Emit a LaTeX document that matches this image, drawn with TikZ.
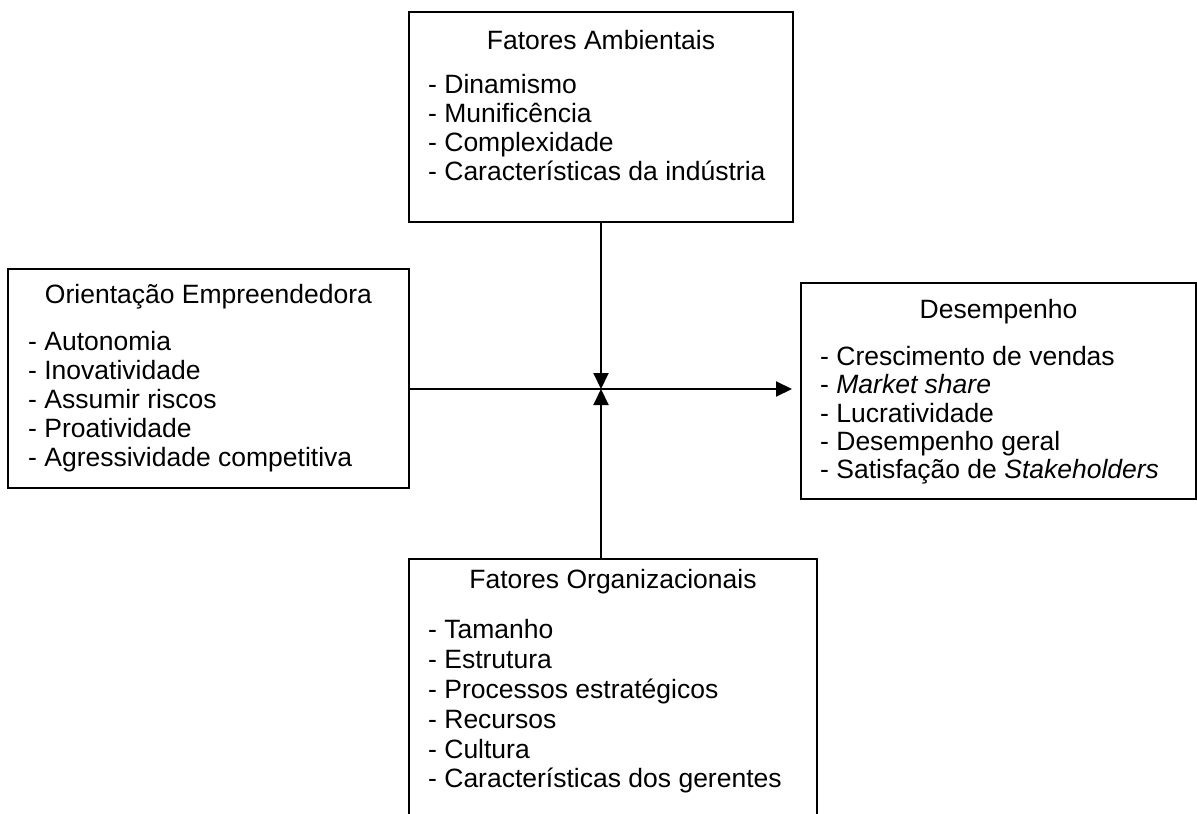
\documentclass[tikz,border=0pt]{standalone}
\usepackage{fontspec}
\setmainfont{Liberation Sans}
\usetikzlibrary{arrows.meta}
\begin{document}
\begin{tikzpicture}[x=1pt,y=-1pt,
  box/.style={draw=black, line width=2pt, inner sep=0pt, rectangle},
  ttl/.style={font=\fontsize{26.5}{30}\selectfont, inner sep=0pt, anchor=base},
  itm/.style={font=\fontsize{26.5}{30}\selectfont, inner sep=0pt, anchor=base west},
  conn/.style={line width=2pt, -{Triangle[length=16pt,width=15pt]}}]
\useasboundingbox (0,0) rectangle (1197,814);
% boxes
\node[box, minimum width=384pt, minimum height=210pt] (amb) at (601,117) {};
\node[box, minimum width=401pt, minimum height=219pt] (ori) at (208.5,378.5) {};
\node[box, minimum width=395pt, minimum height=216pt] (des) at (998.5,391) {};
\node[box, minimum width=408pt, minimum height=256pt] (org) at (613,687) {};
% Fatores Ambientais
\node[ttl] (ambt) at (601,49) {Fatores Ambientais};
\node[itm] (amb1) at (428,93) {- Dinamismo};
\node[itm] (amb2) at (428,122) {- Munificência};
\node[itm] (amb3) at (428,151) {- Complexidade};
\node[itm] (amb4) at (428,180) {- Características da indústria};
% Orientacao Empreendedora
\node[ttl] (orit) at (208.5,303) {Orientação Empreendedora};
\node[itm] (ori1) at (28,350) {- Autonomia};
\node[itm] (ori2) at (28,379) {- Inovatividade};
\node[itm] (ori3) at (28,408) {- Assumir riscos};
\node[itm] (ori4) at (28,437) {- Proatividade};
\node[itm] (ori5) at (28,466) {- Agressividade competitiva};
% Desempenho
\node[ttl] (dest) at (998.5,318) {Desempenho};
\node[itm] (des1) at (820,365) {- Crescimento de vendas};
\node[itm] (des2) at (820,393) {- \textit{Market share}};
\node[itm] (des3) at (820,422) {- Lucratividade};
\node[itm] (des4) at (820,450) {- Desempenho geral};
\node[itm] (des5) at (820,478) {- Satisfação de \textit{Stakeholders}};
% Fatores Organizacionais
\node[ttl] (orgt) at (613,588) {Fatores Organizacionais};
\node[itm] (org1) at (428,638) {- Tamanho};
\node[itm] (org2) at (428,668) {- Estrutura};
\node[itm] (org3) at (428,698) {- Processos estratégicos};
\node[itm] (org4) at (428,728) {- Recursos};
\node[itm] (org5) at (428,758) {- Cultura};
\node[itm] (org6) at (428,787) {- Características dos gerentes};
% connectors
\coordinate (m) at (601,389);
\draw[conn, shorten >=8pt] (ori.east |- m) -- (des.west |- m);
\draw[conn] (amb.south) -- (m);
\draw[conn] (m |- org.north) -- (m);
\end{tikzpicture}
\end{document}
